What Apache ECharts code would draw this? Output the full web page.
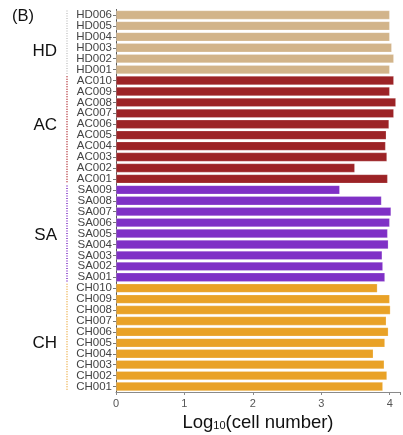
<!DOCTYPE html>
<html><head><meta charset="utf-8">
<script src="https://cdn.jsdelivr.net/npm/echarts@6/dist/echarts.min.js"></script>
<style>html,body{margin:0;padding:0;background:#fff}#c{width:403px;height:435px}</style>
</head><body><div id="c"></div>
<script>
// Categories and values, top to bottom within each group
const hdNames = ['HD006','HD005','HD004','HD003','HD002','HD001'];
const hdValues = [4.00, 4.00, 4.00, 4.03, 4.06, 4.00];
const acNames = ['AC010','AC009','AC008','AC007','AC006','AC005','AC004','AC003','AC002','AC001'];
const acValues = [4.06, 4.00, 4.09, 4.06, 3.99, 3.95, 3.94, 3.96, 3.49, 3.97];
const saNames = ['SA009','SA008','SA007','SA006','SA005','SA004','SA003','SA002','SA001'];
const saValues = [3.27, 3.88, 4.02, 4.00, 3.97, 3.98, 3.89, 3.90, 3.93];
const chNames = ['CH010','CH009','CH008','CH007','CH006','CH005','CH004','CH003','CH002','CH001'];
const chValues = [3.82, 4.00, 4.01, 3.95, 3.98, 3.93, 3.76, 3.92, 3.96, 3.90];
const groupLabels = ['HD','AC','SA','CH'];
const xTicks = [0, 1, 2, 3, 4];

// style: colours and where (in category steps from the group's top bar) the group label sits
const groups = [
  {label: groupLabels[0], names: hdNames, values: hdValues, color: '#D2B48A', dot: '#C8C8C8', at: 3.3},
  {label: groupLabels[1], names: acNames, values: acValues, color: '#9C2326', dot: '#B5363A', at: 4.1},
  {label: groupLabels[2], names: saNames, values: saValues, color: '#7F30C6', dot: '#7F30C6', at: 4.2},
  {label: groupLabels[3], names: chNames, values: chValues, color: '#E9A227', dot: '#EDB453', at: 5.0}
];

// ECharts category y axis goes bottom->top, so reverse
const cats = [];
const data = [];
groups.slice().reverse().forEach(g => {
  for (let i = g.names.length - 1; i >= 0; i--) {
    cats.push(g.names[i]);
    data.push({value: g.values[i], itemStyle: {color: g.color}});
  }
});

const chart = echarts.init(document.getElementById('c'));
const option = {
  animation: false,
  grid: {left: 116, right: 3, top: 9.5, bottom: 43, containLabel: false, outerBoundsMode: 'none'},
  xAxis: {
    type: 'value', min: 0, max: 4.15, interval: 1,
    axisLine: {show: true, lineStyle: {color: '#8a8a8a', width: 1}},
    axisTick: {show: true, length: 3, lineStyle: {color: '#8a8a8a'}},
    splitLine: {show: false},
    axisLabel: {color: '#555', fontSize: 11, fontFamily: 'Liberation Sans', margin: 6,
      formatter: v => xTicks.includes(v) ? String(v) : ''},
    name: '{a|Log}{b|10}{a|(cell number)}',
    nameLocation: 'middle', nameGap: 19,
    nameTextStyle: {rich: {
      a: {fontSize: 18.5, color: '#111', fontFamily: 'Liberation Sans'},
      b: {fontSize: 11, color: '#111', fontFamily: 'Liberation Sans', padding: [6, 0, 0, 0]}
    }}
  },
  yAxis: {
    type: 'category', data: cats,
    axisLine: {show: true, lineStyle: {color: '#555', width: 1}},
    axisTick: {show: true, length: 3, alignWithLabel: true, lineStyle: {color: '#777'}},
    axisLabel: {color: '#444', fontSize: 11.5, fontFamily: 'Liberation Sans', margin: 4, interval: 0}
  },
  series: [{
    type: 'bar', data: data, barCategoryGap: '18%',
    itemStyle: {borderColor: 'rgba(255,255,255,0.35)', borderWidth: 0.6}
  }]
};
chart.setOption(option);

// Group annotations positioned via axis scale
const graphics = [{
  type: 'text', left: 12, top: 8,
  style: {text: '(B)', fontSize: 16.5, fontFamily: 'Liberation Sans', fill: '#111'}
}];
groups.forEach(g => {
  const topName = g.names[0];
  const botName = g.names[g.names.length - 1];
  const yTop = chart.convertToPixel({yAxisIndex: 0}, topName);
  const yBot = chart.convertToPixel({yAxisIndex: 0}, botName);
  const step = Math.abs(chart.convertToPixel({yAxisIndex: 0}, cats[0]) - chart.convertToPixel({yAxisIndex: 0}, cats[1]));
  graphics.push({
    type: 'text', x: 57, y: yTop + step * g.at,
    style: {text: g.label, fontSize: 17, fontFamily: 'Liberation Sans', fill: '#111',
      textAlign: 'right', textVerticalAlign: 'middle'}
  });
  graphics.push({
    type: 'line', shape: {x1: 67, y1: yTop - step * 0.4, x2: 67, y2: yBot + step * 0.4},
    style: {stroke: g.dot, lineWidth: 1.5, lineDash: [1, 1.5]}
  });
});
chart.setOption({graphic: graphics});
</script></body></html>
